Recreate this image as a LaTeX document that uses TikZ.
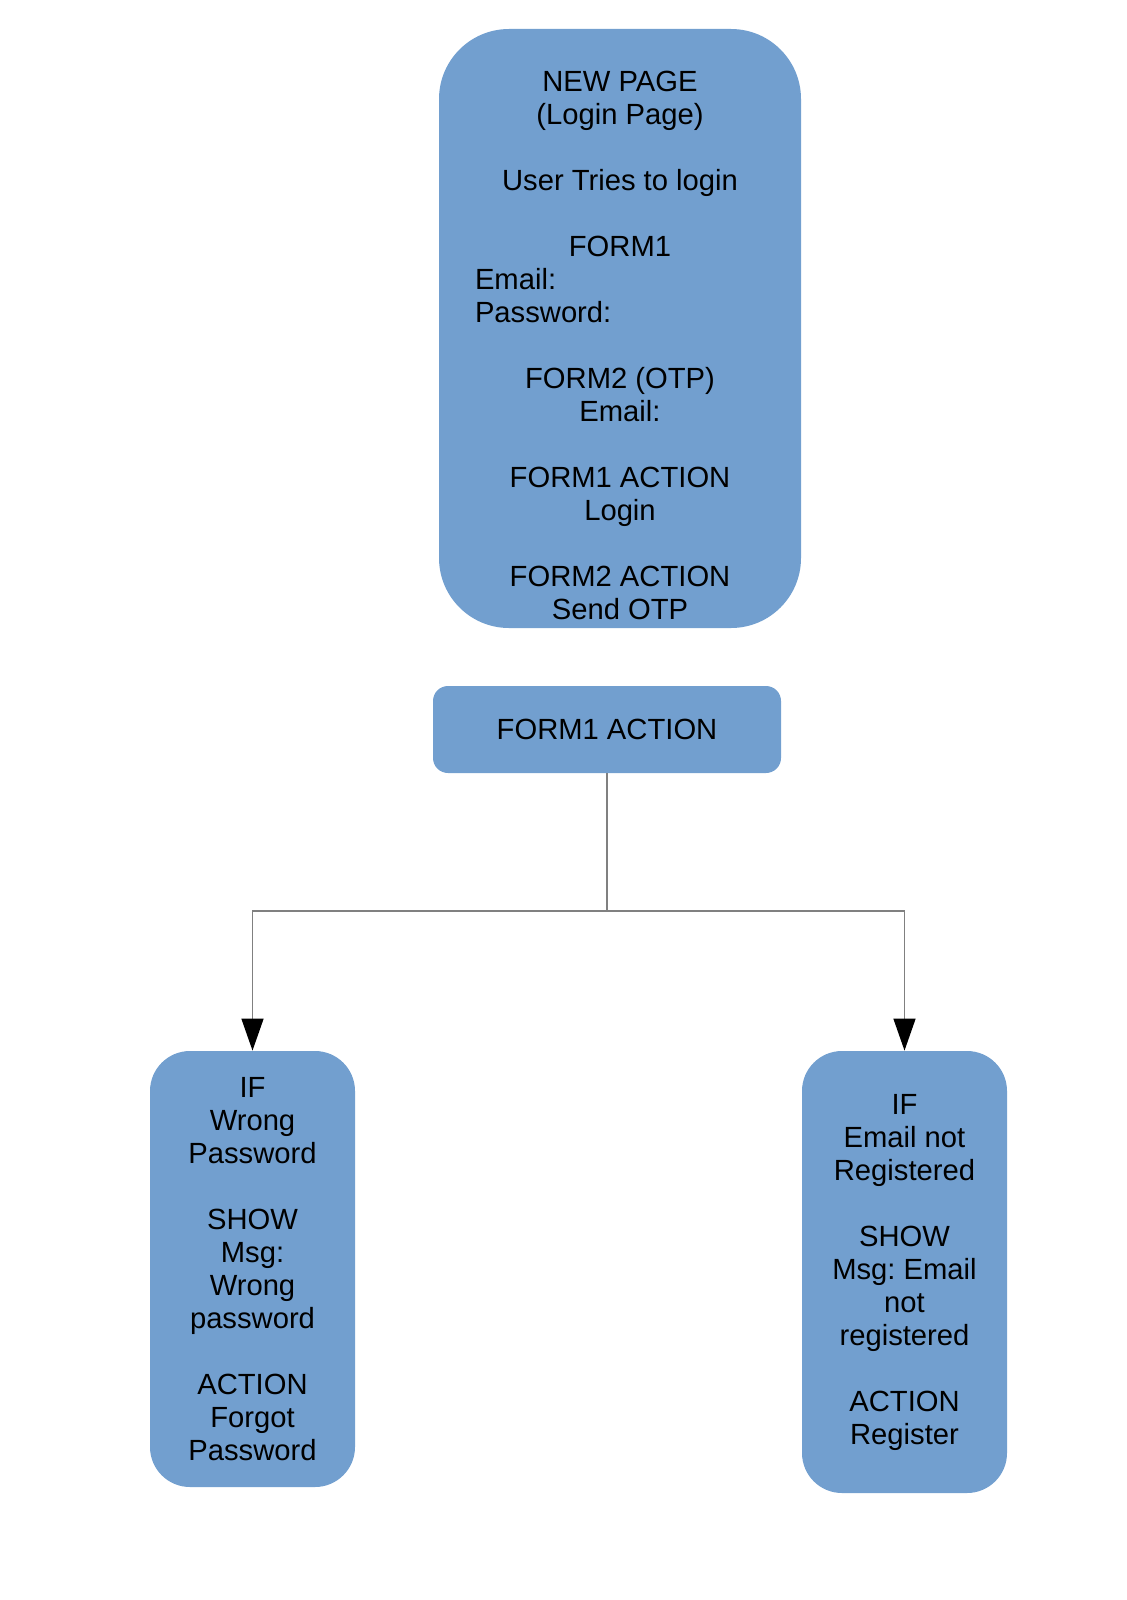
\documentclass[tikz,border=0pt]{standalone}
\usepackage{fontspec}
\setmainfont{Liberation Sans}
\usetikzlibrary{arrows.meta}
\definecolor{boxblue}{HTML}{729FCF}
\frenchspacing
\begin{document}
\begin{tikzpicture}[x=0.5pt,y=-0.5pt,
  box/.style={rectangle,fill=boxblue,draw=none,inner sep=0pt},
  txt/.style={align=center,font=\fontsize{14.6}{16.5}\selectfont},
  link/.style={draw=gray,line width=0.75pt},
  arrow/.style={link,-{Triangle[black,width=11pt,length=16pt]}}]
  \useasboundingbox (0,0) rectangle (1127,1600);

  \node[box,rounded corners=35pt,minimum width=181pt,minimum height=299.5pt] (login) at (620,328.5) {};
  \node[txt] (logintext) at (620,345) {NEW PAGE\\(Login Page)\\[16.5pt]
    User Tries to login\\[16.5pt]
    FORM1\\\makebox[145pt][l]{Email:}\\\makebox[145pt][l]{Password:}\\[16.5pt]
    FORM2 (OTP)\\Email:\hspace*{4pt}\\[16.5pt]
    FORM1 ACTION\\Login\\[16.5pt]
    FORM2 ACTION\\Send OTP};

  \node[box,txt,rounded corners=7.5pt,minimum width=174pt,minimum height=43.5pt] (act) at (607,729.5) {FORM1 ACTION};

  \node[box,txt,rounded corners=20pt,minimum width=102.5pt,minimum height=218pt] (wrong) at (252.5,1269)
    {IF\\Wrong\\Password\\[16.5pt]SHOW\\Msg:\\Wrong\\password\\[16.5pt]ACTION\\Forgot\\Password};
  \node[box,txt,rounded corners=20pt,minimum width=102.5pt,minimum height=221pt] (noemail) at (904.5,1272)
    {IF\\Email not\\Registered\\[16.5pt]SHOW\\Msg: Email\\not\\registered\\[16.5pt]ACTION\\Register};

  \coordinate (split) at (607,911);
  \draw[link] (act) -- (split);
  \draw[arrow] (split) -| (wrong);
  \draw[arrow] (split) -| (noemail);
\end{tikzpicture}
\end{document}
